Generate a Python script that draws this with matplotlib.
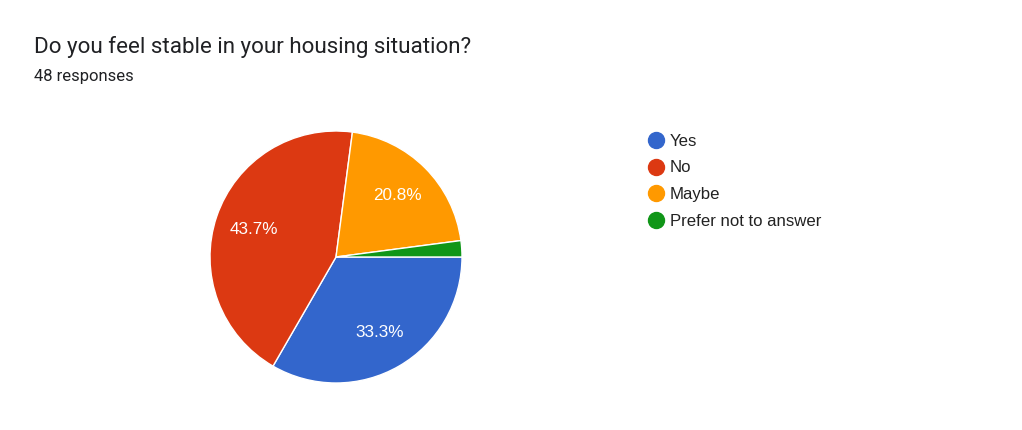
import numpy as np
import matplotlib.pyplot as plt
from matplotlib.lines import Line2D

# 数据
labels = ['Yes', 'No', 'Maybe', 'Prefer not to answer']
counts = [16, 21, 10, 1]
colors = ['#3366cc', '#dc3912', '#ff9900', '#109618']
pct_text = ['33.3%', '43.7%', '20.8%', '']

title = 'Do you feel stable in your housing situation?'
subtitle = '48 responses'

W, H = 1022, 430
fig = plt.figure(figsize=(W / 100, H / 100), dpi=100)
fig.patch.set_facecolor('white')

# 饼图位置（像素换算）
cx, cy, r = 336, 257, 126
ax = fig.add_axes([(cx - r) / W, (H - cy - r) / H, 2 * r / W, 2 * r / H])

wedges, texts = ax.pie(counts, colors=colors, startangle=0, counterclock=False,
                       radius=1, wedgeprops=dict(edgecolor='white', linewidth=1))
for w, t in zip(wedges, pct_text):
    if not t:
        continue
    ang = np.deg2rad((w.theta1 + w.theta2) / 2)
    ax.text(0.69 * np.cos(ang), 0.69 * np.sin(ang), t, color='white',
            ha='center', va='center', fontsize=12.3, family='Liberation Sans')
ax.set_xlim(-1.0, 1.0)
ax.set_ylim(-1.0, 1.0)
ax.set_aspect('equal')
ax.axis('off')

fig.text(34 / W, 1 - 47 / H, title, fontsize=16.1, family='Roboto',
         color='#202124', va='center', ha='left')
fig.text(34 / W, 1 - 77 / H, subtitle, fontsize=12, family='Roboto',
         color='#202124', va='center', ha='left')

handles = [Line2D([], [], marker='o', linestyle='none', markersize=11.5,
                  markerfacecolor=c, markeredgecolor=c) for c in colors]
leg = fig.legend(handles, labels, loc='upper left',
                 bbox_to_anchor=(639.3 / W, 1 - 127 / H), frameon=False,
                 prop={'family': 'Liberation Sans', 'size': 12.1},
                 handletextpad=0.23, labelspacing=0.70, handlelength=1.2,
                 borderaxespad=0)
for t in leg.get_texts():
    t.set_color('#222222')

plt.savefig('out.png', dpi=100, facecolor='white')
